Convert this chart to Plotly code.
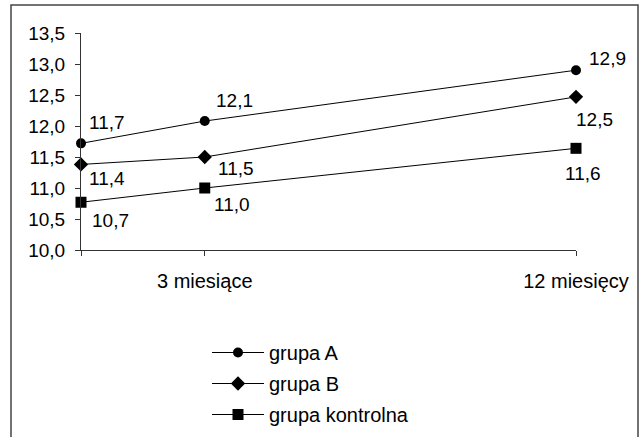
import plotly.graph_objects as go

# Data
months = [0, 3, 12]
tick_labels = ["", "3 miesiące", "12 miesięcy"]
series_names = ["grupa A", "grupa B", "grupa kontrolna"]
grupa_a = [11.72, 12.08, 12.90]
grupa_b = [11.38, 11.50, 12.47]
grupa_k = [10.77, 11.00, 11.64]
labels_a = ["11,7", "12,1", "12,9"]
labels_b = ["11,4", "11,5", "12,5"]
labels_k = ["10,7", "11,0", "11,6"]
y_ticks = [10.0, 10.5, 11.0, 11.5, 12.0, 12.5, 13.0, 13.5]

FONT = "Liberation Sans, Arial, sans-serif"
FS = 19

fig = go.Figure()
specs = [
    (series_names[0], grupa_a, labels_a, "circle", 10, [(6, -21), (9, -21), (11, -12)]),
    (series_names[1], grupa_b, labels_b, "diamond", 11, [(6, 14), (11, 11), (-2, 23)]),
    (series_names[2], grupa_k, labels_k, "square", 11, [(9, 18), (7, 16), (-13, 25)]),
]
annotations = []
for i, (name, ys, labs, sym, sz, offs) in enumerate(specs):
    fig.add_trace(go.Scatter(
        x=months, y=ys, name=name, mode="lines+markers",
        line=dict(color="black", width=1),
        marker=dict(symbol=sym, size=sz, color="black"),
        legendgroup=f"g{i}", cliponaxis=False,
    ))
    for x, y, t, (dx, dy) in zip(months, ys, labs, offs):
        annotations.append(dict(
            x=x, y=y, xref="x", yref="y", text=t, showarrow=False,
            xanchor="left", yanchor="middle", xshift=dx, yshift=-dy,
            font=dict(family=FONT, size=FS, color="black"),
        ))

W, H = 640, 437
L, R, T, B = 81, 64, 33, 187
pw, ph = W - L - R, H - T - B

def px(xp):
    return (xp - L) / pw

def py(yp):
    return (H - B - yp) / ph

fig.update_layout(
    width=W, height=H,
    margin=dict(l=L, r=R, t=T, b=B, autoexpand=False),
    paper_bgcolor="white", plot_bgcolor="white",
    font=dict(family=FONT, size=FS, color="black"),
    showlegend=True,
    legend=dict(
        x=px(207), y=py(333), xanchor="left", yanchor="top",
        font=dict(family=FONT, size=20, color="black"),
        tracegroupgap=2, itemwidth=52, bgcolor="rgba(0,0,0,0)",
    ),
    annotations=annotations,
    shapes=[dict(
        type="rect", xref="paper", yref="paper",
        x0=px(11), x1=px(638), y0=py(460), y1=py(5),
        line=dict(color="#444", width=1.5), layer="below",
    )],
)
fig.update_xaxes(
    range=[0, 12], tickvals=months, ticktext=tick_labels,
    showgrid=False, zeroline=False, showline=True, linecolor="#333", linewidth=1,
    ticks="outside", ticklen=5, tickcolor="#333", ticklabelstandoff=8,
    tickfont=dict(family=FONT, size=20, color="black"), fixedrange=True,
)
fig.update_yaxes(
    range=[10, 13.5], tickvals=y_ticks,
    ticktext=[f"{v:.1f}".replace(".", ",") for v in y_ticks],
    showgrid=False, zeroline=False, showline=True, linecolor="#333", linewidth=1,
    ticks="outside", ticklen=5, tickcolor="#333", ticklabelstandoff=6,
    tickfont=dict(family=FONT, size=FS, color="black"), fixedrange=True,
)

fig.write_html(
    "out.html",
    config={"displayModeBar": False},
    post_script="document.body.style.margin='0px';document.body.style.overflow='hidden';",
)
